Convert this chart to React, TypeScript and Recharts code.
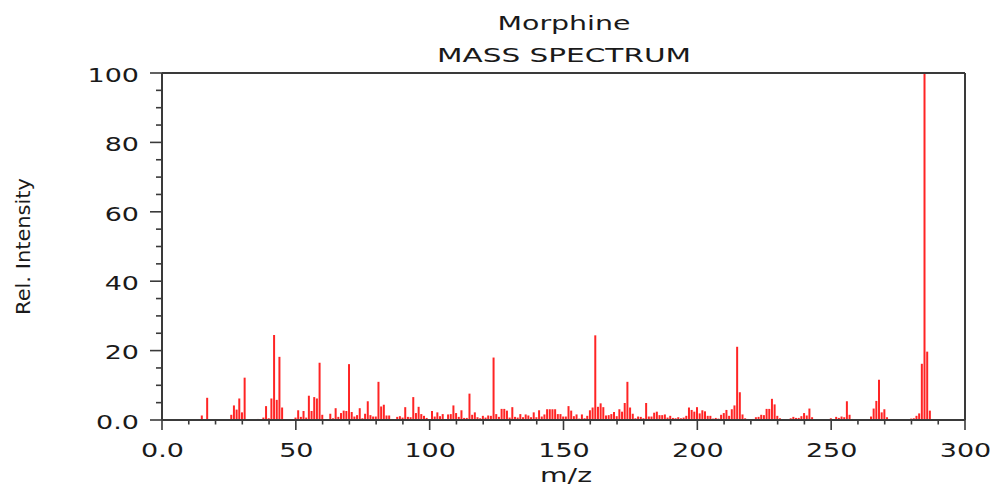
import React from 'react';
import { BarChart, Bar, XAxis, YAxis, ReferenceLine } from 'recharts';

const title = 'Morphine';
const subtitle = 'MASS SPECTRUM';
const xLabel = 'm/z';
const yLabel = 'Rel. Intensity';

const mz: number[] = [
  15, 17, 26, 27, 28, 29, 30, 31, 34, 36, 38, 39, 40, 41, 42, 43, 44, 45,
  50, 51, 52, 53, 54, 55, 56, 57, 58, 59, 60, 63, 64, 65, 66, 67, 68, 69,
  70, 71, 72, 73, 74, 75, 76, 77, 78, 79, 80, 81, 82, 83, 84, 85, 86, 87,
  88, 89, 90, 91, 92, 93, 94, 95, 96, 97, 98, 99, 101, 102, 103, 104, 105,
  106, 107, 108, 109, 110, 111, 112, 113, 114, 115, 116, 117, 118, 119, 120,
  121, 122, 123, 124, 125, 126, 127, 128, 129, 130, 131, 132, 133, 134, 135,
  136, 137, 138, 139, 140, 141, 142, 143, 144, 145, 146, 147, 148, 149, 150,
  151, 152, 153, 154, 155, 156, 157, 158, 159, 160, 161, 162, 163, 164, 165,
  166, 167, 168, 169, 170, 171, 172, 173, 174, 175, 176, 177, 178, 179, 180,
  181, 182, 183, 184, 185, 186, 187, 188, 189, 190, 191, 192, 193, 194, 195,
  196, 197, 198, 199, 200, 201, 202, 203, 204, 205, 206, 207, 208, 209, 210,
  211, 212, 213, 214, 215, 216, 217, 218, 219, 220, 221, 222, 223, 224, 225,
  226, 227, 228, 229, 230, 231, 232, 233, 234, 235, 236, 237, 238, 239, 240,
  241, 242, 243, 244, 250, 251, 252, 253, 254, 255, 256, 257, 258, 259,
  265, 266, 267, 268, 269, 270, 271, 272, 275, 280, 281, 282, 283, 284, 285,
  286, 287,
];

const intensity: number[] = [
  1.3, 6.4, 1.5, 4.2, 3, 6.2, 2.2, 12.2, 0.2, 0.3, 0.7, 4, 0.5, 6.2, 24.5, 5.8, 18.2, 3.6,
  0.7, 2.8, 0.9, 2.6, 0.7, 7, 2.6, 6.6, 6.2, 16.5, 1.5, 1.8, 0.5, 3.4, 0.9, 2, 2.7, 2.6,
  16.1, 2.3, 1, 1.4, 3.4, 0.5, 1.8, 5.4, 1.4, 1, 1, 11, 3.9, 4.4, 1.3, 1.3, 0.3, 0.1,
  0.9, 1.1, 0.7, 3.7, 0.9, 0.8, 6.6, 2, 3.8, 1.7, 1.2, 0.6, 2.6, 1, 2.2, 1.1, 1.7,
  0.3, 1.6, 1.7, 4.2, 2, 0.9, 2.8, 0.6, 0.6, 7.6, 1.5, 2.2, 0.8, 0.5, 1.2,
  0.7, 1.3, 1.2, 18, 1.7, 0.9, 3.2, 3.2, 2.7, 0.7, 3.7, 0.9, 0.7, 1.7, 0.8,
  1.6, 1.3, 0.8, 2.2, 0.8, 2.8, 1, 1.6, 3.1, 3.1, 3.1, 3.1, 1.7, 1.7, 1,
  1, 4, 2.7, 1.1, 1.6, 0.4, 1.6, 0.5, 1.2, 2.8, 3.6, 24.4, 3.8, 4.8, 3.7,
  1.3, 1.4, 1.7, 2.3, 1.1, 3.1, 2.4, 4.9, 11, 3.6, 1.8, 0.5, 1, 0.9, 0.5,
  4.9, 1, 1, 2.1, 2.4, 1.4, 1.4, 1.6, 0.7, 1.2, 0.6, 0.5, 0.8, 0.5, 0.7,
  1.2, 3.6, 2.9, 2.4, 3.7, 1.9, 2.8, 2.5, 1.2, 1.2, 0.4, 0.6, 0.4, 1.5, 2,
  2.9, 1.2, 3.1, 4.2, 21.1, 8, 1.6, 0.5, 0.3, 0.1, 0.3, 0.8, 0.9, 1.5, 1.4,
  3.2, 3.2, 6.1, 4.5, 1.2, 0.5, 0.2, 0.1, 0.2, 0.5, 0.9, 0.6, 0.6, 1.1, 2,
  1.3, 3.3, 0.8, 0.1, 0.5, 0.1, 0.9, 0.6, 1, 0.8, 5.4, 1.5, 0.3, 0.1,
  1, 3.3, 5.5, 11.6, 2.2, 3.1, 0.8, 0.1, 0.1, 0.4, 0.5, 1.2, 1.9, 16.2, 100,
  19.7, 2.7,
];

const xTicks: number[] = [0, 10, 20, 30, 40, 50, 60, 70, 80, 90, 100, 110, 120, 130, 140, 150, 160, 170, 180, 190, 200, 210, 220, 230, 240, 250, 260, 270, 280, 290, 300];
const yTicks: number[] = [0, 5, 10, 15, 20, 25, 30, 35, 40, 45, 50, 55, 60, 65, 70, 75, 80, 85, 90, 95, 100];

const data = mz.map((m, i) => ({ mz: m, intensity: intensity[i] }));

const FONT = '"DejaVu Sans", Verdana, sans-serif';
const AXIS = '#3a3a3a';
const TEXT = '#1a1a1a';
const BAR = '#ff2424';
const STRETCH = 1.42;

const charW: Record<string, number> = { '0': 0.636, '1': 0.636, '2': 0.636, '3': 0.636, '4': 0.636, '5': 0.636, '6': 0.636, '7': 0.636, '8': 0.636, '9': 0.636, '.': 0.318 };
const numWidth = (s: string, fs: number) => s.split('').reduce((a, c) => a + (charW[c] ?? 0.6), 0) * fs * STRETCH;
const fmt = (v: number) => (v === 0 ? '0.0' : String(v));

const YTick = (props: any) => {
  const { x, y, payload } = props;
  const v = payload.value as number;
  const major = v % 20 === 0;
  const label = fmt(v);
  return (
    <g>
      <line x1={x - (major ? 12 : 6)} x2={x} y1={y} y2={y} stroke={AXIS} strokeWidth={1.6} />
      {major && (
        <text x={x - 23} y={y + 8.7} textAnchor="end" fontFamily={FONT} fontSize={19} fill={TEXT}
          textLength={numWidth(label, 19)} lengthAdjust="spacingAndGlyphs">{label}</text>
      )}
    </g>
  );
};

const XTick = (props: any) => {
  const { x, y, payload } = props;
  const v = payload.value as number;
  const major = v % 50 === 0;
  const label = fmt(v);
  return (
    <g>
      <line x1={x} x2={x} y1={y} y2={y + (major ? 10 : 4.5)} stroke={AXIS} strokeWidth={1.6} />
      {major && (
        <text x={x + 0.5} y={y + 37} textAnchor="middle" fontFamily={FONT} fontSize={19} fill={TEXT}
          textLength={numWidth(label, 19)} lengthAdjust="spacingAndGlyphs">{label}</text>
      )}
    </g>
  );
};

export default function App() {
  return (
    <div style={{ position: 'absolute', left: 0, top: 0, width: 995, height: 486, background: '#fff' }}>
      <BarChart width={995} height={486} data={data} margin={{ top: 73, right: 30, bottom: 0, left: 0 }} barGap={0} barCategoryGap={0}>
        <XAxis dataKey="mz" type="number" domain={[0, 300]} ticks={xTicks} interval={0} height={66}
          tickSize={0} tickMargin={0} tick={<XTick />} tickLine={false}
          axisLine={{ stroke: AXIS, strokeWidth: 2 }} allowDataOverflow />
        <YAxis type="number" domain={[0, 100]} ticks={yTicks} interval={0} width={162}
          tickSize={0} tickMargin={0} tick={<YTick />} tickLine={false}
          axisLine={{ stroke: AXIS, strokeWidth: 2 }} allowDataOverflow />
        <ReferenceLine y={100} stroke={AXIS} strokeWidth={2} />
        <ReferenceLine x={300} stroke={AXIS} strokeWidth={2} />
        <Bar dataKey="intensity" fill={BAR} barSize={2} isAnimationActive={false} />
      </BarChart>
      <svg width={995} height={486} style={{ position: 'absolute', left: 0, top: 0, pointerEvents: 'none' }}>
        <text x={564} y={30} textAnchor="middle" fontFamily={FONT} fontSize={20} fill={TEXT}
          textLength={133} lengthAdjust="spacingAndGlyphs">{title}</text>
        <text x={564} y={62} textAnchor="middle" fontFamily={FONT} fontSize={20} fill={TEXT}
          textLength={254} lengthAdjust="spacingAndGlyphs">{subtitle}</text>
        <text x={566} y={481.5} textAnchor="middle" fontFamily={FONT} fontSize={20} fill={TEXT}
          textLength={52} lengthAdjust="spacingAndGlyphs">{xLabel}</text>
        <text x={30} y={246.5} transform="rotate(-90 30 246.5)" textAnchor="middle" fontFamily={FONT} fontSize={20} fill={TEXT}
          textLength={137} lengthAdjust="spacingAndGlyphs">{yLabel}</text>
      </svg>
    </div>
  );
}
